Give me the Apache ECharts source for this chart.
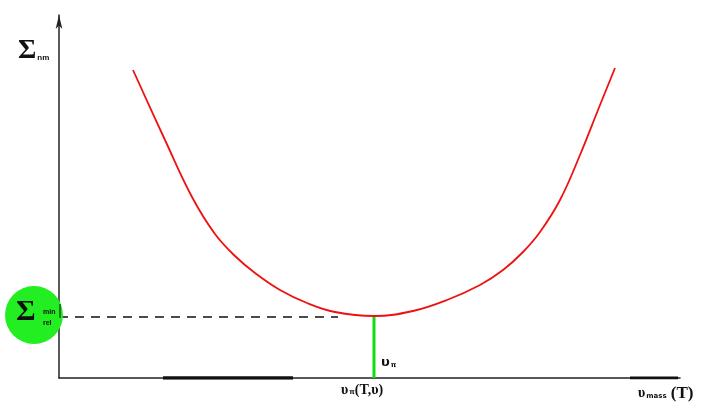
<!DOCTYPE html>
<html><head><meta charset="utf-8">
<script src="https://cdn.jsdelivr.net/npm/echarts@6/dist/echarts.min.js"></script>
<style>html,body{margin:0;padding:0;background:#fff}#c{width:721px;height:405px}</style>
</head><body><div id="c"></div>
<script>
// curve (x units right of y-axis, y units above x-axis)
const curveX = [74, 106, 133, 156, 176, 196, 221, 248, 276, 315, 354, 388, 421, 444, 464, 481, 501, 521, 541, 556];
const curveY = [308, 238, 181, 144, 122, 105, 88, 75, 66, 62, 67, 78, 93, 108, 126, 146, 178, 223, 273, 310];
const minX = 315, minY = 62;
const dashX = [0, 279], dashY = [61, 61];
const greenX = [minX, minX], greenY = [0, minY];
const thick1X = [104, 234], thick2X = [571, 619];
const xMax = 621, yMax = 363;

const chart = echarts.init(document.getElementById('c'));
const pts = curveX.map((x, i) => [x, curveY[i]]);
chart.setOption({
  animation: false,
  grid: { left: 59, right: 41, top: 15, bottom: 27 },
  xAxis: { type: 'value', min: 0, max: xMax, axisLine: { lineStyle: { color: '#222', width: 1.5 } },
    axisTick: { show: false }, axisLabel: { show: false }, splitLine: { show: false } },
  yAxis: { type: 'value', min: 0, max: yMax, axisLine: { lineStyle: { color: '#222', width: 1.5 }, symbol: ['none', 'arrow'], symbolSize: [5, 14] },
    axisTick: { show: false }, axisLabel: { show: false }, splitLine: { show: false } },
  series: [
    { type: 'line', data: pts, smooth: 0.4, symbol: 'none', lineStyle: { color: '#ee1111', width: 1.8 }, z: 5 },
    { type: 'line', data: dashX.map((x, i) => [x, dashY[i]]), symbol: 'none', lineStyle: { color: '#111', width: 1.3, type: [9, 7] } },
    { type: 'line', data: greenX.map((x, i) => [x, greenY[i]]), symbol: 'none', lineStyle: { color: '#11dd11', width: 3 } },
    { type: 'line', data: thick1X.map(x => [x, 0]), symbol: 'none', lineStyle: { color: '#111', width: 3.5 } },
    { type: 'line', data: thick2X.map(x => [x, 0]), symbol: 'none', lineStyle: { color: '#111', width: 3 } }
  ],
  graphic: [
    { type: 'circle', shape: { cx: 34, cy: 315, r: 29 }, style: { fill: '#22ee22' }, z: 10 },
    { type: 'text', left: 16, top: 297, z: 11, style: { text: '{s|Σ}', rich: { s: { fontFamily: 'Liberation Serif', fontWeight: 'bold', fontSize: 30, fill: '#111' } } } },
    { type: 'text', left: 43, top: 307, z: 11, style: { text: 'min\nrel', font: 'bold 7px Liberation Sans', fill: '#111', lineHeight: 11 } },
    { type: 'line', shape: { x1: 60, y1: 304, x2: 60, y2: 318 }, style: { stroke: '#111', lineWidth: 1 }, z: 11 },
    { type: 'text', left: 18, top: 37, style: { text: '{s|Σ}{b|nm}', rich: { s: { fontFamily: 'Liberation Serif', fontWeight: 'bold', fontSize: 28, fill: '#111', verticalAlign: 'bottom' }, b: { font: 'bold 8px Liberation Sans', fill: '#111', padding: [14, 0, 0, 1] } } } },
    { type: 'text', left: 381, top: 356, style: { text: '{a|υ}{b|π}', rich: { a: { font: 'bold 13px DejaVu Sans', fill: '#111' }, b: { font: 'bold 7px DejaVu Sans', fill: '#111', padding: [5, 0, 0, 1] } } } },
    { type: 'text', left: 341, top: 383, style: { text: '{a|υ}{b|π}{a|(T,υ)}', rich: { a: { font: 'bold 14px Liberation Serif', fill: '#111' }, b: { font: 'bold 7px DejaVu Sans', fill: '#111', padding: [5, 0, 0, 1] } } } },
    { type: 'text', left: 638, top: 385, style: { text: '{a|υ}{b|mass}{c| (T)}', rich: { a: { font: 'bold 14px Liberation Serif', fill: '#111' }, b: { font: 'bold 7px DejaVu Sans', fill: '#111', padding: [6, 0, 0, 1] }, c: { font: 'bold 17px Liberation Serif', fill: '#111' } } } }
  ]
});
</script></body></html>
